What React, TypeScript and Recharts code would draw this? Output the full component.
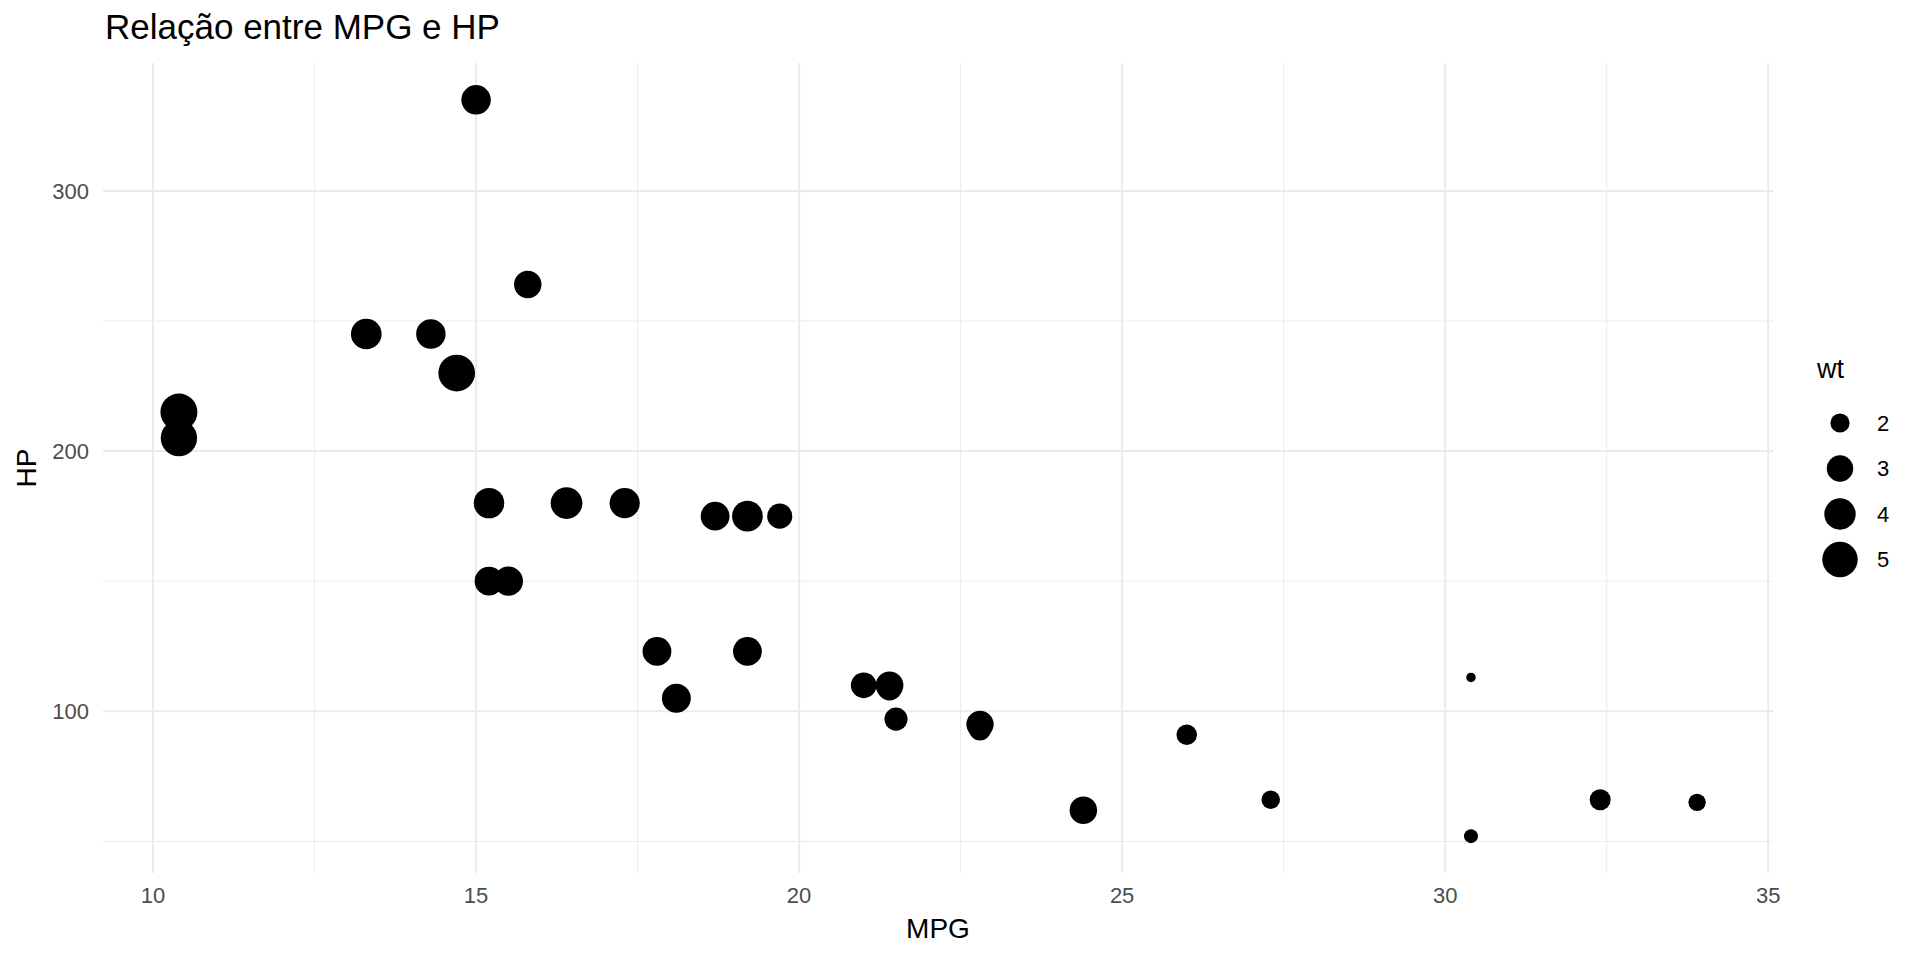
import React from 'react';
import {
  ScatterChart,
  Scatter,
  XAxis,
  YAxis,
  ReferenceLine,
} from 'recharts';

// mtcars: mpg, hp, wt
const mpg = [21.0, 21.0, 22.8, 21.4, 18.7, 18.1, 14.3, 24.4, 22.8, 19.2, 17.8, 16.4, 17.3, 15.2, 10.4, 10.4,
  14.7, 32.4, 30.4, 33.9, 21.5, 15.5, 15.2, 13.3, 19.2, 27.3, 26.0, 30.4, 15.8, 19.7, 15.0, 21.4];
const hp = [110, 110, 93, 110, 175, 105, 245, 62, 95, 123, 123, 180, 180, 180, 205, 215,
  230, 66, 52, 65, 97, 150, 150, 245, 175, 66, 91, 113, 264, 175, 335, 109];
const wt = [2.62, 2.875, 2.32, 3.215, 3.44, 3.46, 3.57, 3.19, 3.15, 3.44, 3.44, 4.07, 3.73, 3.78, 5.25, 5.424,
  5.345, 2.2, 1.615, 1.835, 2.465, 3.52, 3.435, 3.84, 3.845, 1.935, 2.14, 1.513, 3.17, 2.77, 3.57, 2.78];

const xTicks = [10, 15, 20, 25, 30, 35];
const yTicks = [100, 200, 300];
const xMinor = [12.5, 17.5, 22.5, 27.5, 32.5];
const yMinor = [50, 150, 250];
const legendValues = [2, 3, 4, 5];

const data = mpg.map((m, i) => ({ mpg: m, hp: hp[i], wt: wt[i] }));

const FONT = '"Liberation Sans", Arial, Helvetica, sans-serif';
const GRID = '#EBEBEB';

// ggplot-like area scale: size 1..6 over the wt range
const wtMin = Math.min(...wt);
const wtMax = Math.max(...wt);
const diameter = (w: number) => {
  const t = Math.max(0, (w - wtMin) / (wtMax - wtMin));
  const s = 1 + 5 * Math.sqrt(t);
  return 5.5 * s + 4;
};

const Dot = (props: any) => {
  const { cx, cy, payload } = props;
  if (cx == null || cy == null) return null;
  return <circle cx={cx} cy={cy} r={diameter(payload.wt) / 2} fill="#000" />;
};

export default function App() {
  return (
    <div style={{ position: 'absolute', left: 0, top: 0, width: 1920, height: 960, background: '#fff', fontFamily: FONT }}>
      <ScatterChart width={1920} height={960} margin={{ top: 63, right: 147, bottom: 0, left: 0 }}>
        {xMinor.map((v) => (
          <ReferenceLine key={`xm${v}`} x={v} stroke={GRID} strokeWidth={1} />
        ))}
        {yMinor.map((v) => (
          <ReferenceLine key={`ym${v}`} y={v} stroke={GRID} strokeWidth={1} />
        ))}
        {xTicks.map((v) => (
          <ReferenceLine key={`x${v}`} x={v} stroke={GRID} strokeWidth={2} />
        ))}
        {yTicks.map((v) => (
          <ReferenceLine key={`y${v}`} y={v} stroke={GRID} strokeWidth={2} />
        ))}
        <XAxis
          type="number"
          dataKey="mpg"
          domain={[9.225, 35.075]}
          ticks={xTicks}
          height={87}
          axisLine={false}
          tickLine={false}
          tickSize={0}
          tickMargin={14}
          tick={{ fill: '#4D4D4D', fontSize: 22, fontFamily: FONT }}
          allowDataOverflow
        />
        <YAxis
          type="number"
          dataKey="hp"
          domain={[37.85, 349.15]}
          ticks={yTicks}
          width={103}
          axisLine={false}
          tickLine={false}
          tickSize={0}
          tickMargin={14}
          tick={{ fill: '#4D4D4D', fontSize: 22, fontFamily: FONT }}
          allowDataOverflow
        />
        <Scatter data={data} shape={<Dot />} isAnimationActive={false} />
      </ScatterChart>
      <svg width={1920} height={960} style={{ position: 'absolute', left: 0, top: 0, pointerEvents: 'none' }}>
        <text x={105} y={39} fontSize={35} fill="#000" fontFamily={FONT}>Relação entre MPG e HP</text>
        <text x={938} y={938} fontSize={28} fill="#000" textAnchor="middle" fontFamily={FONT}>MPG</text>
        <text x={36} y={468} fontSize={28} fill="#000" textAnchor="middle" fontFamily={FONT} transform="rotate(-90 36 468)">HP</text>
        <text x={1817} y={378} fontSize={27} fill="#000" fontFamily={FONT}>wt</text>
        {legendValues.map((v, i) => {
          const y = 423 + i * 45.5;
          return (
            <g key={v}>
              <circle cx={1840} cy={y} r={diameter(v) / 2} fill="#000" />
              <text x={1877} y={y} dy="0.36em" fontSize={22} fill="#000" fontFamily={FONT}>{v}</text>
            </g>
          );
        })}
      </svg>
    </div>
  );
}
